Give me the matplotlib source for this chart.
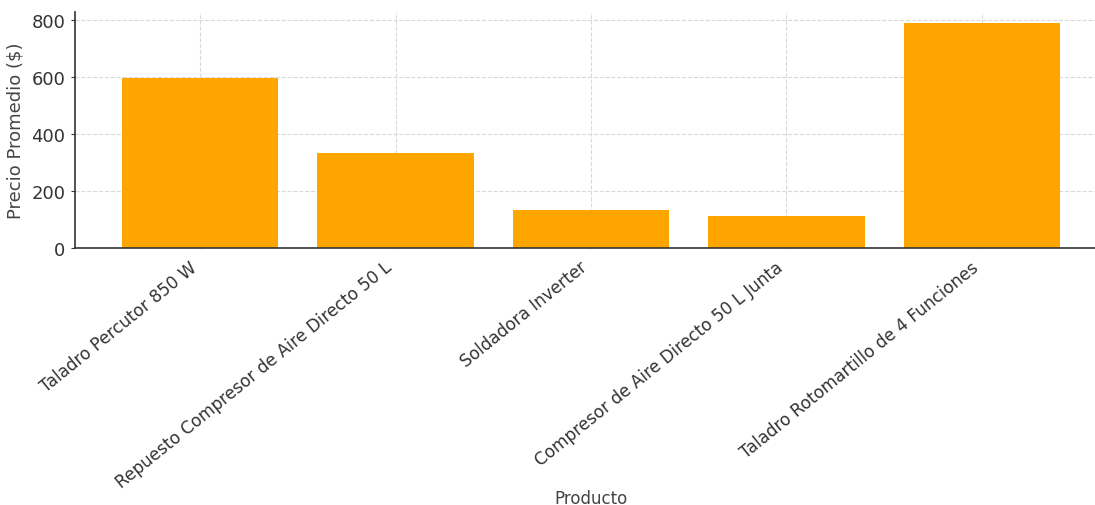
import matplotlib
matplotlib.use("Agg")
import matplotlib.pyplot as plt

productos = [
    "Taladro Percutor 850 W",
    "Repuesto Compresor de Aire Directo 50 L",
    "Soldadora Inverter",
    "Compresor de Aire Directo 50 L Junta",
    "Taladro Rotomartillo de 4 Funciones",
]
precios = [597, 332, 134, 113, 790]
yticks = [0, 200, 400, 600, 800]

fig = plt.figure(figsize=(10.95, 5.06), dpi=100)
ax = fig.add_axes([0.0685, 0.508, 0.9425, 0.467])

ax.bar(productos, precios, color="#FFA500", width=0.8, zorder=2)
ax.set_yticks(yticks)
ax.grid(True, linestyle="--", color="#d9d9d9", linewidth=0.8, zorder=0)
ax.set_axisbelow(True)

for side in ("top", "right"):
    ax.spines[side].set_visible(False)
for side in ("left", "bottom"):
    ax.spines[side].set_color("#333333")
    ax.spines[side].set_linewidth(1.2)

ax.tick_params(axis="y", colors="#333333", labelsize=13, length=3,
               direction="out", pad=4)
ax.tick_params(axis="x", colors="#333333", labelsize=12.2, length=3,
               direction="in", pad=7)
plt.setp(ax.get_xticklabels(), rotation=39, ha="right")

ax.set_ylabel("Precio Promedio ($)", fontsize=13, color="#444444", labelpad=5)
ax.set_xlabel("Producto", fontsize=12, color="#444444")
ax.xaxis.set_label_coords(0.5, -1.02)

fig.savefig("out.png", dpi=100)
